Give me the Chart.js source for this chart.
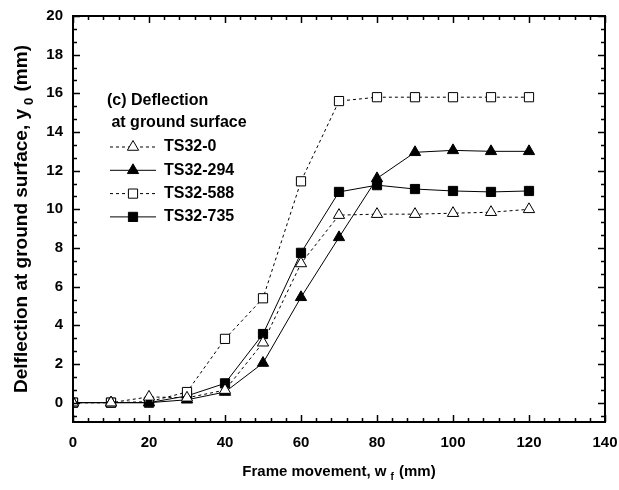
<!DOCTYPE html>
<html>
<head>
<meta charset="utf-8">
<script src="https://cdn.jsdelivr.net/npm/chart.js@4.4.1/dist/chart.umd.min.js"></script>
<style>
  html, body { margin: 0; padding: 0; background: #fff; }
  canvas { display: block; }
</style>
</head>
<body>
<canvas id="deflectionChart" width="619" height="490"></canvas>
<script>
// frame movement w_f (mm) and ground surface deflection y_0 (mm)
const frameMovement = [0, 10, 20, 30, 40, 50, 60, 70, 80, 90, 100, 110, 120];
const ts32_0   = [0, 0, 0.3, 0.25, 0.65, 3.1, 7.2, 9.7, 9.75, 9.75, 9.8, 9.85, 10.0];
const ts32_294 = [0, 0, 0, 0.15, 0.55, 2.05, 5.45, 8.55, 11.6, 12.95, 13.05, 13.0, 13.0];
const ts32_588 = [0, 0, 0.05, 0.55, 3.3, 5.4, 11.45, 15.6, 15.8, 15.8, 15.8, 15.8, 15.8];
const ts32_735 = [0, 0, 0, 0.35, 1.0, 3.55, 7.75, 10.9, 11.25, 11.05, 10.95, 10.9, 10.95];

const seriesNames = ['TS32-0', 'TS32-294', 'TS32-588', 'TS32-735'];
const xTickValues = [0, 20, 40, 60, 80, 100, 120, 140];
const yTickValues = [0, 2, 4, 6, 8, 10, 12, 14, 16, 18, 20];
const noteLines = ['(c) Deflection', ' at ground surface'];

const FONT = "'Liberation Sans', Arial, Helvetica, sans-serif";

function toPoints(ys) {
    return frameMovement.map((x, i) => ({ x: x, y: ys[i] }));
}

function series(label, ys, style, filled, dashed) {
    return {
        label: label,
        data: toPoints(ys),
        borderColor: '#000',
        borderWidth: 1,
        borderDash: dashed ? [3, 3] : [],
        pointStyle: style,
        pointRadius: 6.5,
        pointBorderWidth: 1,
        pointBorderColor: '#000',
        pointBackgroundColor: filled ? '#000' : '#fff',
        fill: false,
        tension: 0
    };
}

// draws box frame with inward ticks, axis titles, note and legend
const decorations = {
    id: 'decorations',
    afterDraw(chart) {
        const ctx = chart.ctx;
        const area = chart.chartArea;
        const xs = chart.scales.x;
        const ys = chart.scales.y;

        ctx.save();
        ctx.strokeStyle = '#000';
        ctx.lineWidth = 2;
        ctx.strokeRect(area.left, area.top, area.right - area.left, area.bottom - area.top);

        // x ticks: major every 20, minor every 4
        ctx.lineWidth = 1.5;
        for (let v = 0; v <= 140; v += 4) {
            const px = Math.round(xs.getPixelForValue(v)) + 0.5;
            const len = v % 20 === 0 ? 7 : 4;
            ctx.beginPath();
            ctx.moveTo(px, area.bottom); ctx.lineTo(px, area.bottom - len);
            ctx.moveTo(px, area.top); ctx.lineTo(px, area.top + len);
            ctx.stroke();
        }
        // y ticks: major every 2, two minors between
        for (let k = -1; k <= 30; k++) {
            const v = k * 2 / 3;
            if (v < -1 || v > 20) continue;
            const py = Math.round(ys.getPixelForValue(v)) + 0.5;
            const len = k % 3 === 0 ? 7 : 4;
            ctx.beginPath();
            ctx.moveTo(area.left, py); ctx.lineTo(area.left + len, py);
            ctx.moveTo(area.right, py); ctx.lineTo(area.right - len, py);
            ctx.stroke();
        }

        ctx.fillStyle = '#000';

        // x title with subscript f
        drawTitle(ctx, [['Frame movement, w', false], ['f', true], [' (mm)', false]],
            (area.left + area.right) / 2, 472, 15);

        // y title, rotated, with subscript 0
        ctx.save();
        ctx.translate(22, (area.top + area.bottom) / 2);
        ctx.rotate(-Math.PI / 2);
        drawTitle(ctx, [['Delflection at ground surface, y', false], ['0', true], [' (mm)', false]], 0, 0, 19);
        ctx.restore();

        // note
        ctx.font = 'bold 16px ' + FONT;
        ctx.textAlign = 'left';
        ctx.textBaseline = 'middle';
        ctx.fillText(noteLines[0], 107, 101);
        ctx.fillText(noteLines[1], 107, 123);

        // legend
        chart.data.datasets.forEach((ds, i) => {
            const rowY = 147 + i * 23.3;
            ctx.save();
            ctx.strokeStyle = '#000';
            ctx.lineWidth = 1;
            ctx.setLineDash(ds.borderDash);
            ctx.beginPath();
            ctx.moveTo(110, rowY); ctx.lineTo(156, rowY);
            ctx.stroke();
            ctx.setLineDash([]);
            ctx.fillStyle = ds.pointBackgroundColor;
            ctx.strokeStyle = '#000';
            Chart.helpers.drawPoint(ctx, {
                pointStyle: ds.pointStyle,
                radius: ds.pointRadius,
                borderWidth: 1,
                rotation: 0
            }, 133, rowY);
            ctx.restore();
            ctx.font = 'bold 16px ' + FONT;
            ctx.fillStyle = '#000';
            ctx.textAlign = 'left';
            ctx.textBaseline = 'middle';
            ctx.fillText(ds.label, 164, rowY);
        });
        ctx.restore();
    }
};

function drawTitle(ctx, parts, cx, baseY, size) {
    const mainFont = 'bold ' + size + 'px ' + FONT;
    const subFont = 'bold ' + Math.round(size * 0.68) + 'px ' + FONT;
    let total = 0;
    const widths = parts.map(([t, sub]) => {
        ctx.font = sub ? subFont : mainFont;
        const w = ctx.measureText(t).width + (sub ? 5 : 0);
        total += w;
        return w;
    });
    let x = cx - total / 2;
    ctx.textAlign = 'left';
    ctx.textBaseline = 'middle';
    parts.forEach(([t, sub], i) => {
        ctx.font = sub ? subFont : mainFont;
        ctx.fillText(t, x + (sub ? 4 : 0), baseY + (sub ? size * 0.38 : 0));
        x += widths[i];
    });
}

new Chart(document.getElementById('deflectionChart'), {
    type: 'line',
    data: {
        datasets: [
            series(seriesNames[0], ts32_0, 'triangle', false, true),
            series(seriesNames[1], ts32_294, 'triangle', true, false),
            series(seriesNames[2], ts32_588, 'rect', false, true),
            series(seriesNames[3], ts32_735, 'rect', true, false)
        ]
    },
    options: {
        responsive: false,
        animation: false,
        events: [],
        layout: { padding: { top: 16, right: 14, left: 0, bottom: 0 } },
        plugins: {
            legend: { display: false },
            tooltip: { enabled: false }
        },
        scales: {
            x: {
                type: 'linear',
                min: 0,
                max: 140,
                afterBuildTicks: s => { s.ticks = xTickValues.map(v => ({ value: v })); },
                afterFit: s => { s.height = 68; s.paddingLeft = 0; s.paddingRight = 0; },
                grid: { display: false, drawTicks: false },
                border: { display: false },
                ticks: { color: '#000', padding: 12, maxRotation: 0, font: { family: FONT, size: 15, weight: 'bold' } }
            },
            y: {
                type: 'linear',
                min: -1,
                max: 20,
                afterBuildTicks: s => { s.ticks = yTickValues.map(v => ({ value: v })); },
                afterFit: s => { s.width = 73; s.paddingTop = 0; s.paddingBottom = 0; },
                grid: { display: false, drawTicks: false },
                border: { display: false },
                ticks: { color: '#000', padding: 10, font: { family: FONT, size: 15, weight: 'bold' } }
            }
        }
    },
    plugins: [decorations]
});
</script>
</body>
</html>
